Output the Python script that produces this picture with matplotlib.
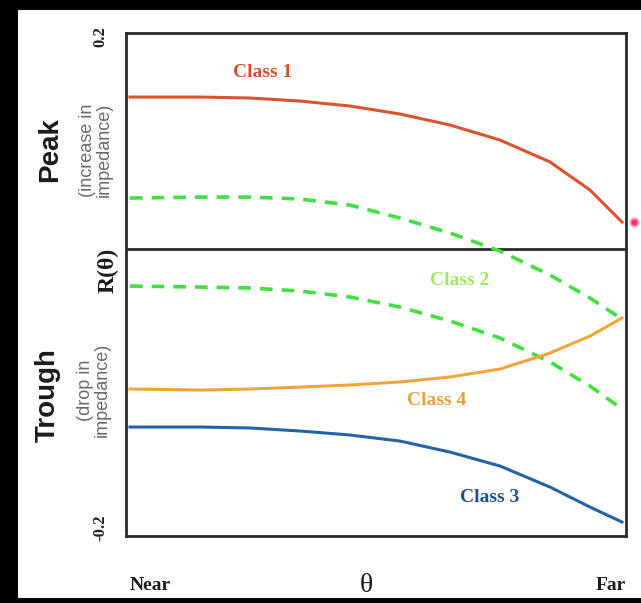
import numpy as np
import matplotlib.pyplot as plt
from matplotlib.patches import Rectangle

# angle from near (0) to far (1)
theta = [0.008, 0.148, 0.248, 0.348, 0.448, 0.548, 0.648, 0.748, 0.848, 0.928, 0.992]

# R(theta) for each AVO class
class1 = [0.1407, 0.1407, 0.1398, 0.1370, 0.1324, 0.1250, 0.1148, 0.1009, 0.0806, 0.0546, 0.0250]
class2_hi = [0.0472, 0.0481, 0.0481, 0.0463, 0.0407, 0.0287, 0.0148, -0.0019, -0.0241, -0.0454, -0.0648]
class2_lo = [-0.0343, -0.0352, -0.0361, -0.0389, -0.0444, -0.0537, -0.0667, -0.0824, -0.1046, -0.1269, -0.1481]
class4 = [-0.1296, -0.1306, -0.1296, -0.1278, -0.1259, -0.1231, -0.1185, -0.1111, -0.0963, -0.0806, -0.0639]
class3 = [-0.1648, -0.1648, -0.1657, -0.1685, -0.1722, -0.1778, -0.1880, -0.2009, -0.2204, -0.2389, -0.2528]

serif = 'Liberation Serif'
sans = 'Liberation Sans'

fig = plt.figure(figsize=(6.41, 6.03), dpi=100)
fig.patch.set_facecolor('black')
fig.patches.append(Rectangle((18/641, 5/603), 1 - 18/641, 1 - 15/603,
                             transform=fig.transFigure, facecolor='white',
                             edgecolor='none', zorder=-5))

ax = fig.add_axes([126/641, 1 - 536/603, 500/641, 503/603])
ax.set_zorder(2)
ax.set_facecolor('white')
ax.set_xlim(0, 1)
ax.set_ylim(-0.2657, 0.2)
ax.set_xticks([])
ax.set_yticks([])
for s in ax.spines.values():
    s.set_color('#2a2a2a')
    s.set_linewidth(2)
ax.axhline(0, color='#2a2a2a', lw=2)

ax.plot(theta, class1, color='#d9532f', lw=2.2)
ax.plot(theta, class2_hi, color='#3fe03f', lw=2.6, dashes=(3.5, 2.5))
ax.plot(theta, class2_lo, color='#3fe03f', lw=2.6, dashes=(3.5, 2.5))
ax.plot(theta, class4, color='#f0a53a', lw=2.2)
ax.plot(theta, class3, color='#2462a8', lw=2.2)

# laser pointer dot at the right edge
ax.scatter([1.016], [0.025], s=40, color='#ff5a8a', alpha=0.5, clip_on=False, zorder=5)
ax.scatter([1.016], [0.025], s=12, color='#ff2d6a', clip_on=False, zorder=6)

lab = dict(fontfamily=serif, fontweight='bold', fontsize=14, ha='center', va='center')
ax.text((263-126)/500, (249-72)*0.2/216, 'Class 1', color='#d4502e', **lab)
ax.text((460-126)/500, (249-280)*0.2/216, 'Class 2', color='#9ee860', **lab)
ax.text((437-126)/500, (249-400)*0.2/216, 'Class 4', color='#eaa03c', **lab)
ax.text((490-126)/500, (249-497)*0.2/216, 'Class 3', color='#1f4f8f', **lab)

# left side labels (figure pixel coords)
def ftext(px, py, s, **kw):
    fig.text(px/641, 1 - py/603, s, ha='center', va='center', rotation=90, **kw)

ftext(100, 37, '0.2', fontfamily=serif, fontweight='bold', fontsize=12, color='#222222')
ftext(100, 528, '-0.2', fontfamily=serif, fontweight='bold', fontsize=12, color='#222222')
ftext(50, 150, 'Peak', fontfamily=sans, fontweight='bold', fontsize=20, color='#1a1a1a')
ftext(96, 150, '(increase in\nimpedance)', fontfamily=sans, fontsize=13,
      color='#6a6a6a', linespacing=0.95)
ftext(108, 270, 'R(θ)', fontfamily=serif, fontweight='bold', fontsize=17, color='#1a1a1a')
ftext(48, 395, 'Trough', fontfamily=sans, fontweight='bold', fontsize=20, color='#1a1a1a')
ftext(94, 390, '(drop in\nimpedance)', fontfamily=sans, fontsize=13,
      color='#6a6a6a', linespacing=0.95)

# x axis labels
def btext(px, s, size, weight='bold'):
    fig.text(px/641, 1 - 585/603, s, ha='center', va='center', fontfamily=serif,
             fontweight=weight, fontsize=size, color='#1a1a1a')

btext(150, 'Near', 14)
btext(366, 'θ', 20, 'normal')
btext(611, 'Far', 14)

fig.savefig('out.png', dpi=100, facecolor=fig.get_facecolor())
